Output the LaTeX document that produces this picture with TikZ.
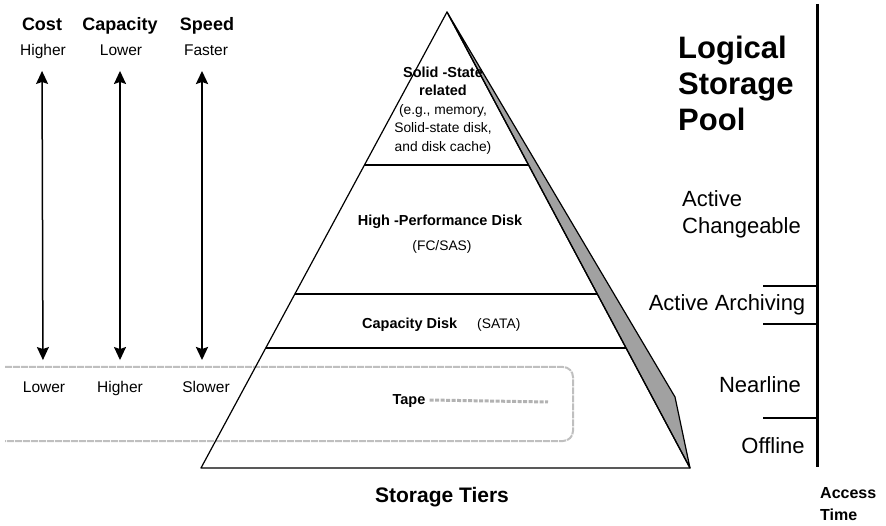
\documentclass[tikz,border=0pt]{standalone}
\usepackage{fontspec}
\setmainfont{Liberation Sans}
\usetikzlibrary{positioning}
\usetikzlibrary{arrows.meta}
\usetikzlibrary{calc}

\begin{document}
\begin{tikzpicture}[x=1pt, y=-1pt,
  head/.style={font=\fontsize{18}{20}\selectfont\bfseries, inner sep=0pt, text height=13pt, text depth=4pt},
  scalelabel/.style={font=\fontsize{15.5}{18}\selectfont, inner sep=0pt, text height=11.5pt, text depth=3pt},
  trend/.style={{Stealth[length=13pt, width=12pt, inset=2pt]}-{Stealth[length=13pt, width=12pt, inset=2pt]}, line width=1.5pt, shorten <=12pt, shorten >=21pt},
  tiertitle/.style={font=\fontsize{14.5}{18}\selectfont\bfseries, align=center, inner sep=0pt},
  tiernote/.style={font=\fontsize{13.8}{18.5}\selectfont, align=center, inner sep=0pt},
  accesslabel/.style={font=\fontsize{22}{27}\selectfont, align=left, inner sep=0pt}
]
  \useasboundingbox (0,0) rectangle (886,526);

  % Corners of the pyramid
  \coordinate (apex) at (447,12);
  \coordinate (bl) at (201,468);
  \coordinate (br) at (690,468);
  \coordinate (shade) at (675,397);

  % Tape pool behind the pyramid
  \draw[black!25, line width=2pt, dash pattern=on 7pt off 1pt, rounded corners=10pt]
    (5,367) -- (573,367) -- (573,441) -- (5,441);

  \draw[fill=black!37, line width=1.2pt, line join=round] (apex) -- (shade) -- (br) -- cycle;
  \draw[line width=1.2pt, line join=round] (apex) -- (bl) -- (br) -- cycle;

  % Tier borders
  \foreach \t in {0.3355,0.6184,0.7368} {
    \draw[line width=1.2pt] ($(apex)!\t!(bl)$) -- ($(apex)!\t!(br)$);
  }

  % Tier texts
  \node[tiertitle] (ssd) at (443,81) {Solid -State\\related};
  \node[tiernote] (ssdnote) at (443,129) {(e.g., memory,\\Solid-state disk,\\and disk cache)};
  \node[tiertitle] (hpd) at (440,222) {High -Performance Disk};
  \node[tiernote] (hpdnote) at (442,247) {(FC/SAS)};
  \node[tiertitle, anchor=west] (cap) at (362,325) {Capacity Disk};
  \node[tiernote, anchor=west] (capnote) at (477,325) {(SATA)};
  \node[tiertitle] (tape) at (409,401) {Tape};
  \coordinate (tapeEnd) at (548,402);
  \draw[black!30, line width=3pt, dash pattern=on 4pt off 1.5pt] ([xshift=4pt,yshift=1pt]tape.east) -- (tapeEnd);

  \node[font=\fontsize{21}{24}\selectfont\bfseries] (tiers) at (442,497) {Storage Tiers};

  % Trend arrows on the left
  \node[head] (cost) at (42,26) {Cost};
  \node[head] (capacity) at (120,26) {Capacity};
  \node[head] (speed) at (207,26) {Speed};
  \node[scalelabel] (costHi) at (43,51.5) {Higher};
  \node[scalelabel] (capLo) at (121,51.5) {Lower};
  \node[scalelabel] (speedHi) at (206,51.5) {Faster};
  \node[scalelabel] (costLo) at (44,388.5) {Lower};
  \node[scalelabel] (capHi) at (120,388.5) {Higher};
  \node[scalelabel] (speedLo) at (206,388.5) {Slower};

  \draw[trend] ([xshift=-1pt]costHi.south) -- ([xshift=-1pt]costLo.north);
  \draw[trend] ([xshift=-1pt]capLo.south) -- (capHi.north);
  \draw[trend, line width=2.5pt] ([xshift=-4pt]speedHi.south) -- ([xshift=-4pt]speedLo.north);

  % Access time axis
  \coordinate (axTop) at (817,4);
  \coordinate (axBot) at (817,467);
  \draw[line width=3pt] (axTop) -- (axBot);
  \foreach \y in {286,324,418} {
    \draw[line width=2.5pt] (763,\y) -- (axTop |- 0,\y);
  }

  \node[font=\fontsize{31}{36}\selectfont\bfseries, align=left, inner sep=0pt, anchor=west] (pool) at (678,83) {Logical\\Storage\\Pool};
  \node[accesslabel, anchor=west] (active) at (682,214) {Active\\Changeable};
  \node[accesslabel] (archive) at (727,305) {Active Archiving};
  \node[accesslabel] (nearline) at (760,385) {Nearline};
  \node[accesslabel] (offline) at (773,446) {Offline};
  \node[font=\fontsize{16}{22}\selectfont\bfseries, align=left, inner sep=0pt, anchor=west] (access) at (820,504) {Access\\Time};
\end{tikzpicture}
\end{document}
